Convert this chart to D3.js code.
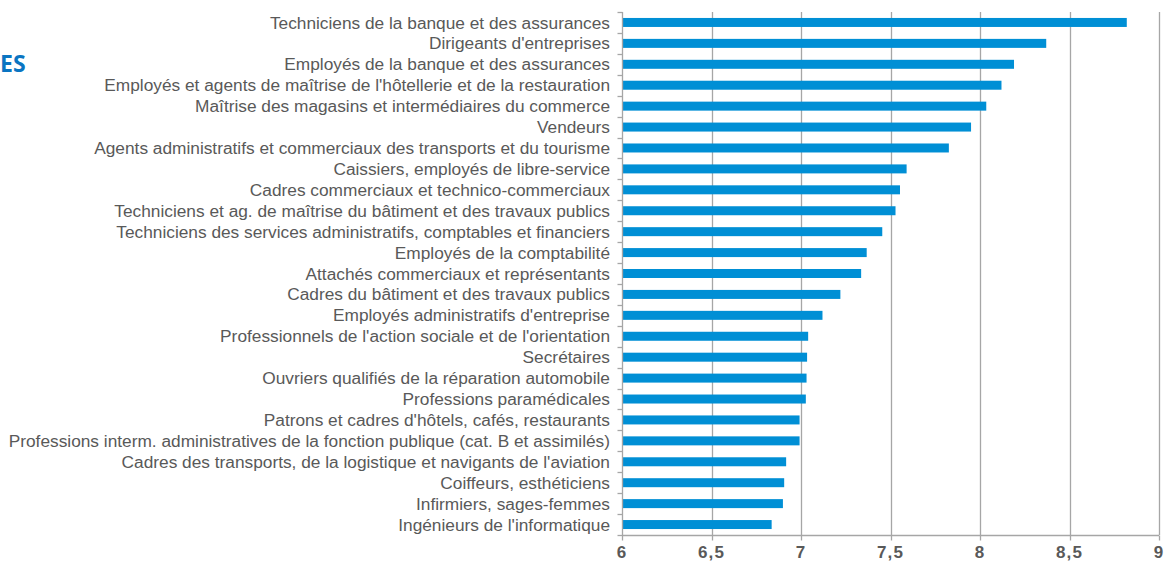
<!DOCTYPE html>
<html><head><meta charset="utf-8">
<script src="https://cdn.jsdelivr.net/npm/d3@7"></script>
<style>body{margin:0;background:#fff;} svg{display:block;}</style>
</head><body>
<script>
const categories = [
  "Techniciens de la banque et des assurances",
  "Dirigeants d'entreprises",
  "Employés de la banque et des assurances",
  "Employés et agents de maîtrise de l'hôtellerie et de la restauration",
  "Maîtrise des magasins et intermédiaires du commerce",
  "Vendeurs",
  "Agents administratifs et commerciaux des transports et du tourisme",
  "Caissiers, employés de libre-service",
  "Cadres commerciaux et technico-commerciaux",
  "Techniciens et ag. de maîtrise du bâtiment et des travaux publics",
  "Techniciens des services administratifs, comptables et financiers",
  "Employés de la comptabilité",
  "Attachés commerciaux et représentants",
  "Cadres du bâtiment et des travaux publics",
  "Employés administratifs d'entreprise",
  "Professionnels de l'action sociale et de l'orientation",
  "Secrétaires",
  "Ouvriers qualifiés de la réparation automobile",
  "Professions paramédicales",
  "Patrons et cadres d'hôtels, cafés, restaurants",
  "Professions interm. administratives de la fonction publique (cat. B et assimilés)",
  "Cadres des transports, de la logistique et navigants de l'aviation",
  "Coiffeurs, esthéticiens",
  "Infirmiers, sages-femmes",
  "Ingénieurs de l'informatique"
];
const values = [8.82, 8.37, 8.19, 8.12, 8.035, 7.95, 7.826, 7.59, 7.553, 7.528, 7.454, 7.367, 7.336, 7.22, 7.12, 7.04, 7.034, 7.031, 7.027, 6.992, 6.992, 6.917, 6.906, 6.899, 6.836];
const tickValues = [6, 6.5, 7, 7.5, 8, 8.5, 9];
const tickLabels = ["6", "6,5", "7", "7,5", "8", "8,5", "9"];
const titleFragment = "ES";

const W = 1166, H = 561;
const margin = {left: 622, right: 7, top: 12, bottom: 26};
const svg = d3.select("body").append("svg").attr("width", W).attr("height", H);

const x = d3.scaleLinear().domain([6, 9]).range([margin.left, W - margin.right]);
const y = d3.scaleBand().domain(categories).range([margin.top, H - margin.bottom]).paddingInner(0.57).paddingOuter(0.285);

// gridlines
svg.append("g").selectAll("line").data(tickValues.slice(1)).join("line")
  .attr("x1", d => Math.round(x(d)) + 0.5).attr("x2", d => Math.round(x(d)) + 0.5)
  .attr("y1", margin.top).attr("y2", H - margin.bottom)
  .attr("stroke", "#a6a6a6").attr("stroke-width", 1.3);

// bars
svg.append("g").selectAll("rect").data(values).join("rect")
  .attr("x", x(6) + 1)
  .attr("y", (d, i) => y(categories[i]))
  .attr("width", d => x(d) - x(6) - 1)
  .attr("height", y.bandwidth())
  .attr("fill", "#008fd5");

// y axis
const yAxisX = Math.round(x(6)) + 0.5;
const gy = svg.append("g");
gy.append("line").attr("x1", yAxisX).attr("x2", yAxisX).attr("y1", margin.top).attr("y2", H - margin.bottom)
  .attr("stroke", "#a6a6a6").attr("stroke-width", 1.3);
const bounds = categories.map(c => y(c) - y.step() * y.paddingInner() / 2);
bounds.push(H - margin.bottom);
gy.selectAll("line.tk").data(bounds).join("line").attr("class", "tk")
  .attr("x1", yAxisX - 5).attr("x2", yAxisX)
  .attr("y1", d => Math.round(d) + 0.5).attr("y2", d => Math.round(d) + 0.5)
  .attr("stroke", "#a6a6a6").attr("stroke-width", 1.3);
gy.selectAll("text").data(categories).join("text")
  .attr("x", 610).attr("y", d => y(d) + y.bandwidth() / 2)
  .attr("dy", "0.35em").attr("text-anchor", "end")
  .attr("font-family", "'Liberation Sans', Arial, sans-serif").attr("font-size", 17.3)
  .attr("fill", "#595959").text(d => d);

// x axis
const axisY = Math.round(H - margin.bottom) + 0.5;
const gx = svg.append("g");
gx.append("line").attr("x1", x(6)).attr("x2", x(9)).attr("y1", axisY).attr("y2", axisY)
  .attr("stroke", "#a6a6a6").attr("stroke-width", 1.3);
gx.selectAll("line.tk").data(tickValues).join("line").attr("class", "tk")
  .attr("x1", d => Math.round(x(d)) + 0.5).attr("x2", d => Math.round(x(d)) + 0.5)
  .attr("y1", axisY).attr("y2", axisY + 5)
  .attr("stroke", "#a6a6a6").attr("stroke-width", 1.3);
gx.selectAll("text").data(tickValues).join("text")
  .attr("x", d => x(d)).attr("y", 558).attr("text-anchor", "middle")
  .attr("font-family", "'Liberation Sans', Arial, sans-serif").attr("font-size", 17).attr("font-weight", "bold")
  .attr("letter-spacing", "1.2px")
  .attr("fill", "#595959").text((d, i) => tickLabels[i]);

svg.append("text").attr("x", 0).attr("y", 72)
  .attr("font-family", "'Open Sans', 'Liberation Sans', sans-serif").attr("font-size", 23).attr("font-weight", "bold")
  .attr("fill", "#0a75c2").text(titleFragment);
</script>
</body></html>
